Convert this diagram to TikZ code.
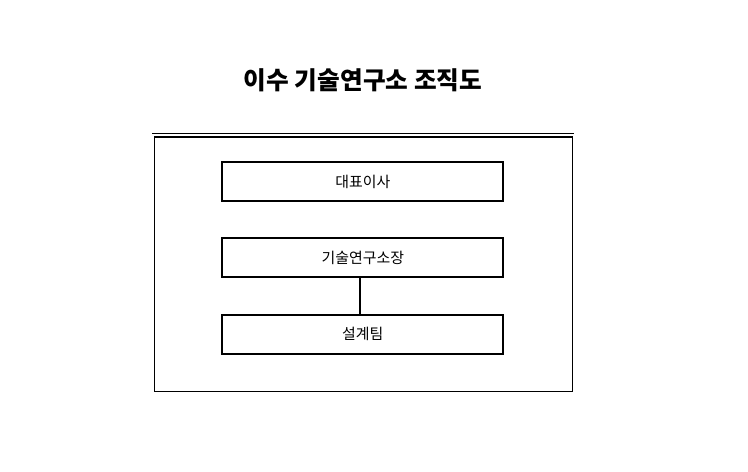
\documentclass[tikz,border=0pt]{standalone}
\usepackage{fontspec}
\usepackage{tikz}
\usetikzlibrary{chains, positioning}
\newfontfamily\krfont{Noto Sans CJK KR}

\begin{document}
\begin{tikzpicture}[x=0.75pt, y=-0.75pt,
    post/.style={
      rectangle,
      draw,
      line width=1.5pt,
      minimum width=210.75pt,
      minimum height=29.25pt,
      font=\krfont\fontsize{11.2}{13}\selectfont
    },
    start chain=going below,
    node distance=26.5pt]
  \useasboundingbox (0,0) rectangle (748,471);
  \node[font=\krfont\bfseries\fontsize{18.5}{22}\selectfont] (title) at (363,80) {이수 기술연구소 조직도};
  % frame
  \draw[line width=0.75pt] (152,133.5) -- (574,133.5);
  \draw[line width=0.75pt] (154.5,136.5) rectangle (572.5,391);
  \draw[line width=1.5pt] (154.5,136.5) -- (572.5,136.5);
  % posts
  \node[post,on chain] (ceo) at (362.8,181.6) {대표이사};
  \node[post,on chain] (head) {기술연구소장};
  \node[post,on chain] (design) {설계팀};
  \draw[line width=1.5pt] ([xshift=-2.25pt]head.south) -- ([xshift=-2.25pt]design.north);
\end{tikzpicture}
\end{document}
